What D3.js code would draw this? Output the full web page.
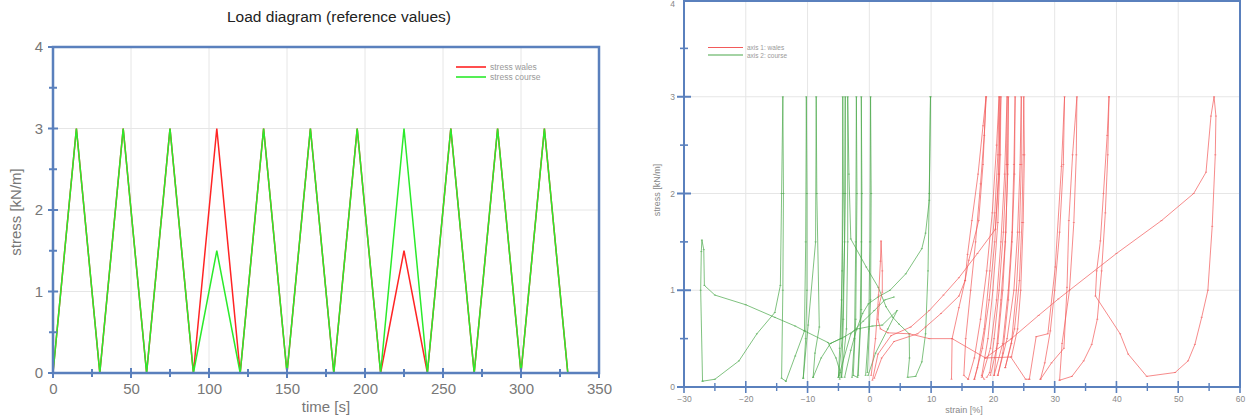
<!DOCTYPE html>
<html><head><meta charset="utf-8">
<script src="https://cdn.jsdelivr.net/npm/d3@7"></script>
<style>
body{margin:0;background:#fff;}
svg{display:block;font-family:"Liberation Sans",Arial,sans-serif;}
</style></head><body>
<svg id="c" width="1247" height="417"></svg>
<script>
// ---------- Left chart data ----------
const timeS = [0,15,30,45,60,75,90,105,120,135,150,165,180,195,210,225,240,255,270,285,300,315,330];
const stressWales  = [0,3,0,3,0,3,0,3,0,3,0,3,0,3,0,1.5,0,3,0,3,0,3,0];
const stressCourse = [0,3,0,3,0,3,0,1.5,0,3,0,3,0,3,0,3,0,3,0,3,0,3,0];
const leftXTicks = [0,50,100,150,200,250,300,350];
const leftXMinor = [25,75,125,175,225,275,325];
const leftYTicks = [0,1,2,3,4];
const leftYMinor = [0.5,1.5,2.5,3.5];

// ---------- Right chart data (strain %, stress kN/m) ----------
const walesA = [[0.3,0.12],[1.0,0.5],[1.5,0.95],[1.8,1.3],[1.9,1.51],[2.1,1.2],[2.1,0.98],[1.6,0.85],[1.4,0.7],[1.8,0.6],[3.0,0.56],[6.5,0.55],[9.7,0.5],[13.4,0.5],[18.8,0.3],[22.9,0.31],[25.3,0.08],[25.9,0.08]];
const walesB = [[0.5,0.07],[1.4,0.34],[3.5,0.53],[6.7,0.62],[9.7,0.79],[12.0,0.95],[14.5,1.13],[17.5,1.38],[20.4,1.63],[21.0,2.2],[21.1,3.0]];
const walesC = [[0.8,0.09],[2.0,0.3],[4.0,0.47],[7.8,0.55],[9.1,0.62],[11.6,0.76],[14.5,0.94],[15.5,1.1],[16.1,1.31],[17.7,1.72],[18.4,2.3],[18.9,3.0]];
const walesL1 = [[13.3,0.08],[13.4,0.5],[14.5,0.82],[15.5,1.1],[15.9,1.37],[16.6,1.72],[17.6,2.2],[18.4,2.7],[18.9,3.0],[18.6,2.6],[18.0,2.1],[17.2,1.5],[16.4,1.0],[15.6,0.5],[15.3,0.12],[16.0,0.08]];
const walesL2 = [[16.0,0.08],[17.0,0.3],[18.0,0.7],[19.0,1.2],[19.9,1.8],[20.6,2.5],[21.0,3.0],[20.8,2.4],[20.3,1.8],[19.5,1.2],[18.6,0.6],[17.5,0.2],[17.0,0.08]];
const walesL3 = [[17.0,0.08],[18.3,0.4],[19.4,0.9],[20.3,1.5],[20.9,2.2],[21.3,3.0],[21.2,2.4],[20.8,1.7],[20.0,1.0],[19.2,0.5],[18.2,0.12],[18.6,0.08]];
const walesL4 = [[18.2,0.1],[19.6,0.4],[20.6,0.9],[21.3,1.5],[21.9,2.2],[22.3,3.0],[22.2,2.3],[21.7,1.6],[21.0,1.0],[20.2,0.5],[19.5,0.15],[19.0,0.1]];
const walesL5 = [[19.6,0.12],[20.8,0.45],[21.6,1.0],[22.1,1.6],[22.4,2.3],[22.5,3.0],[22.4,2.2],[22.0,1.5],[21.3,0.9],[20.6,0.4],[20.2,0.12]];
const walesL6 = [[20.2,0.12],[21.6,0.45],[22.5,1.0],[23.1,1.6],[23.4,2.3],[23.6,3.0],[23.5,2.2],[23.1,1.5],[22.5,0.9],[21.6,0.35],[20.8,0.12]];
const walesL7 = [[20.8,0.12],[22.3,0.5],[23.4,1.0],[24.0,1.6],[24.4,2.3],[24.6,3.0],[24.6,2.3],[24.3,1.6],[23.8,1.0],[23.0,0.45],[22.0,0.2]];
const walesL8 = [[22.0,0.2],[23.5,0.6],[24.3,1.1],[24.7,1.7],[24.9,2.4],[25.0,3.0],[25.1,2.4],[24.9,1.7],[24.5,1.0],[24.0,0.6],[23.0,0.31]];
const walesL9 = [[25.9,0.08],[27.0,0.52],[28.9,0.55],[30.1,1.24],[31.1,2.28],[31.6,3.0],[31.4,2.3],[30.8,1.6],[30.0,1.0],[29.3,0.58],[28.4,0.25],[27.7,0.08]];
const walesL10 = [[27.7,0.08],[29.5,0.25],[31.5,0.4],[32.0,1.03],[32.3,1.72],[32.9,2.4],[33.6,3.0],[33.5,2.4],[33.1,1.7],[32.4,1.0],[31.2,0.45],[30.8,0.07]];
const walesL11 = [[38.8,3.0],[38.6,2.4],[38.2,1.8],[37.6,1.2],[36.9,0.7],[36.0,0.44],[34.7,0.27],[32.8,0.11],[30.8,0.07]];
const walesLong = [[18.8,0.3],[23.0,0.5],[27.4,0.74],[30.6,0.91],[40.0,1.38],[47.3,1.72],[52.5,2.0],[54.5,2.22],[55.3,2.8],[55.8,3.0],[56.1,2.8],[56.0,2.4],[55.5,1.66],[54.8,1.0],[53.8,0.72],[52.7,0.44],[51.6,0.27],[49.5,0.15],[44.9,0.11],[41.9,0.34],[40.6,0.55],[36.6,0.94],[36.8,1.2],[37.4,1.51],[37.9,2.0],[38.5,2.6],[38.8,3.0]];

const courseA = [[-27.0,0.06],[-27.3,1.0],[-27.2,1.4],[-27.1,1.52],[-26.8,1.42],[-26.7,1.05],[-25.0,0.95],[-20.0,0.85],[-15.3,0.72],[-12.0,0.63],[-10.5,0.58],[-6.7,0.46],[-5.4,0.3],[-4.7,0.15],[-4.8,0.08]];
const courseB = [[-27.0,0.06],[-25.0,0.08],[-21.1,0.27],[-18.2,0.55],[-15.3,0.77],[-14.4,1.05],[-14.2,2.0],[-14.0,3.0],[-13.9,2.0],[-14.0,1.0],[-14.2,0.09],[-13.5,0.06]];
const courseC = [[-13.5,0.06],[-12.0,0.32],[-10.5,0.58],[-10.3,1.5],[-10.2,3.0],[-10.1,2.0],[-10.1,1.0],[-10.3,0.5],[-10.7,0.09]];
const courseD = [[-10.7,0.09],[-9.9,0.64],[-8.7,1.5],[-8.6,3.0],[-8.5,2.0],[-8.1,0.62],[-8.8,0.35],[-9.1,0.1]];
const courseE = [[-9.1,0.1],[-7.8,0.3],[-6.3,0.45],[-4.6,0.5],[-4.4,1.2],[-4.3,3.0],[-4.2,2.0],[-4.5,0.9],[-4.8,0.4],[-5.0,0.1]];
const courseF = [[-5.0,0.1],[-4.4,0.5],[-4.0,1.5],[-3.9,3.0],[-3.9,2.0],[-4.2,0.7],[-4.5,0.1]];
const courseG = [[-4.5,0.1],[-3.7,0.6],[-3.5,1.5],[-3.5,3.0],[-3.3,2.2],[-3.0,1.53],[-0.5,1.24],[1.45,1.03],[2.7,0.83],[3.8,0.72],[4.8,0.65],[6.45,0.55],[6.5,0.3],[6.2,0.1],[7.5,0.11],[8.5,0.26],[9.1,0.55],[9.5,1.2],[9.7,2.0],[9.9,3.0]];
const courseH = [[9.9,3.0],[9.7,1.93],[9.1,1.59],[8.5,1.43],[5.9,1.17],[3.35,1.0],[1.4,0.93],[-0.15,0.86],[-1.1,0.76],[-2.1,0.59],[-3.0,0.38],[-4.0,0.1]];
const courseI = [[-2.8,0.1],[-2.4,0.5],[-2.2,1.5],[-2.1,3.0],[-2.0,2.0],[-2.2,0.7],[-2.6,0.12],[-1.9,0.1],[-1.5,0.6],[-1.3,1.5],[-1.3,3.0],[-1.2,2.0],[-1.3,0.8],[-1.8,0.12]];
const courseJ = [[-0.6,0.12],[-0.1,0.6],[0.1,1.5],[0.2,3.0],[0.3,2.0],[0.2,0.9],[-0.3,0.15]];
const courseK = [[-6.3,0.45],[-4.0,0.52],[-2.0,0.6],[0.5,0.63],[2.1,0.64],[4.5,0.79],[3.0,0.6],[1.0,0.35],[-0.2,0.12]];
const courseM = [[-4.9,0.12],[-3.0,0.55],[-1.0,0.68],[0.8,0.79],[2.5,0.9],[4.0,0.93]];

const rightXTicks = [-30,-20,-10,0,10,20,30,40,50,60];
const rightXMinor = [-25,-15,-5,5,15,25,35,45,55];
const rightYTicks = [0,1,2,3,4];
const rightYMinor = [0.5,1.5,2.5,3.5];

const walesCurves = [walesA,walesB,walesC,walesL1,walesL2,walesL3,walesL4,walesL5,walesL6,walesL7,walesL8,walesL9,walesL10,walesL11,walesLong];
const courseCurves = [courseA,courseB,courseC,courseD,courseE,courseF,courseG,courseH,courseI,courseJ,courseK,courseM];

// ---------- drawing ----------
const svg = d3.select("#c");
const frameColor = "#5a80bd";
const gridColor = "#e6e6e6";
const redR = "#f25a5a", greenR = "#4aa84a";

function crossTicks(g, scale, values, orient, pos, len, width){
  values.forEach(v=>{
    const p = scale(v);
    if(orient==="x") g.append("line").attr("x1",p).attr("x2",p).attr("y1",pos-len).attr("y2",pos+len);
    else g.append("line").attr("y1",p).attr("y2",p).attr("x1",pos-len).attr("x2",pos+len);
  });
  g.attr("stroke",frameColor).attr("stroke-width",width);
}

// ===== Left chart =====
const xL = d3.scaleLinear().domain([0,350]).range([53,599]);
const yL = d3.scaleLinear().domain([0,4]).range([373,47]);
const L = svg.append("g");

L.append("text").attr("x",339).attr("y",22).attr("text-anchor","middle")
  .attr("font-size",15.5).attr("fill","#222").text("Load diagram (reference values)");

L.append("g").selectAll("line").data(leftXTicks.slice(1,-1)).join("line")
  .attr("x1",d=>xL(d)).attr("x2",d=>xL(d)).attr("y1",yL(0)).attr("y2",yL(4))
  .attr("stroke",gridColor).attr("stroke-width",1);
L.append("g").selectAll("line").data(leftYTicks.slice(1,-1)).join("line")
  .attr("y1",d=>yL(d)).attr("y2",d=>yL(d)).attr("x1",xL(0)).attr("x2",xL(350))
  .attr("stroke",gridColor).attr("stroke-width",1);

const lineL = d3.line().x(d=>xL(d[0])).y(d=>yL(d[1]));
L.append("path").datum(timeS.map((t,i)=>[t,stressWales[i]])).attr("d",lineL)
  .attr("fill","none").attr("stroke","#ff2424").attr("stroke-width",1.5);
L.append("path").datum(timeS.map((t,i)=>[t,stressCourse[i]])).attr("d",lineL)
  .attr("fill","none").attr("stroke","#2bea2b").attr("stroke-width",1.5);

L.append("rect").attr("x",xL(0)).attr("y",yL(4)).attr("width",xL(350)-xL(0)).attr("height",yL(0)-yL(4))
  .attr("fill","none").attr("stroke",frameColor).attr("stroke-width",2.5);
crossTicks(L.append("g"), xL, leftXTicks, "x", yL(0), 5, 2);
crossTicks(L.append("g"), xL, leftXMinor, "x", yL(0), 4, 2);
crossTicks(L.append("g"), yL, leftYTicks, "y", xL(0), 5, 2);
crossTicks(L.append("g"), yL, leftYMinor, "y", xL(0), 4, 2);

const axLX = L.append("g").attr("transform",`translate(0,${yL(0)})`)
  .call(d3.axisBottom(xL).tickValues(leftXTicks).tickSize(0).tickPadding(10).tickFormat(d3.format("d")));
axLX.select(".domain").remove();
axLX.selectAll("text").attr("font-size",15).attr("fill","#777").attr("font-family","Liberation Sans, Arial, sans-serif");
const axLY = L.append("g").attr("transform",`translate(${xL(0)},0)`)
  .call(d3.axisLeft(yL).tickValues(leftYTicks).tickSize(0).tickPadding(10).tickFormat(d3.format("d")));
axLY.select(".domain").remove();
axLY.selectAll("text").attr("font-size",15).attr("fill","#777").attr("font-family","Liberation Sans, Arial, sans-serif");

L.append("text").attr("x",326).attr("y",412).attr("text-anchor","middle")
  .attr("font-size",15).attr("fill","#777").text("time [s]");
L.append("text").attr("transform","translate(21,212) rotate(-90)").attr("text-anchor","middle")
  .attr("font-size",15).attr("fill","#777").text("stress [kN/m]");

const legL = [["stress wales","#ff2424"],["stress course","#2bea2b"]];
legL.forEach((d,i)=>{
  const y = 67 + i*10;
  L.append("line").attr("x1",456).attr("x2",486).attr("y1",y).attr("y2",y).attr("stroke",d[1]).attr("stroke-width",1.6);
  L.append("text").attr("x",490).attr("y",y+3).attr("font-size",8.5).attr("fill","#999").text(d[0]);
});

// ===== Right chart =====
const xR = d3.scaleLinear().domain([-30,60]).range([684,1240]);
const yR = d3.scaleLinear().domain([0,4]).range([387,0]);
const R = svg.append("g");

R.append("g").selectAll("line").data(rightXTicks.slice(1,-1)).join("line")
  .attr("x1",d=>xR(d)).attr("x2",d=>xR(d)).attr("y1",yR(0)).attr("y2",yR(4))
  .attr("stroke",gridColor).attr("stroke-width",1);
R.append("g").selectAll("line").data(rightYTicks.slice(1,-1)).join("line")
  .attr("y1",d=>yR(d)).attr("y2",d=>yR(d)).attr("x1",xR(-30)).attr("x2",xR(60))
  .attr("stroke",gridColor).attr("stroke-width",1);

const lineR = d3.line().x(d=>xR(d[0])).y(d=>yR(d[1]));
function drawCurves(curves, color){
  const g = R.append("g");
  curves.forEach(c=>{
    g.append("path").datum(c).attr("d",lineR).attr("fill","none")
      .attr("stroke",color).attr("stroke-opacity",0.7).attr("stroke-width",1);
    g.append("g").selectAll("line").data(c).join("line")
      .attr("x1",d=>xR(d[0])-1).attr("x2",d=>xR(d[0])+1).attr("y1",d=>yR(d[1])).attr("y2",d=>yR(d[1]))
      .attr("stroke",color).attr("stroke-opacity",0.6).attr("stroke-width",1);
  });
}
drawCurves(courseCurves, greenR);
drawCurves(walesCurves, redR);

R.append("rect").attr("x",xR(-30)).attr("y",yR(4)+1).attr("width",xR(60)-xR(-30)).attr("height",yR(0)-yR(4)-1)
  .attr("fill","none").attr("stroke",frameColor).attr("stroke-width",2);
crossTicks(R.append("g"), xR, rightXTicks, "x", yR(0), 6, 1.6);
crossTicks(R.append("g"), xR, rightXMinor, "x", yR(0), 4, 1.4);
crossTicks(R.append("g"), yR, rightYTicks.slice(0,4), "y", xR(-30), 7, 2);
crossTicks(R.append("g"), yR, rightYMinor, "y", xR(-30), 4, 1.6);

const axRX = R.append("g").attr("transform",`translate(0,${yR(0)})`)
  .call(d3.axisBottom(xR).tickValues(rightXTicks).tickSize(0).tickPadding(9).tickFormat(d3.format("d")));
axRX.select(".domain").remove();
axRX.selectAll("text").attr("font-size",8.5).attr("fill","#888").attr("font-family","Liberation Sans, Arial, sans-serif");
const axRY = R.append("g").attr("transform",`translate(${xR(-30)},0)`)
  .call(d3.axisLeft(yR).tickValues(rightYTicks).tickSize(0).tickPadding(9).tickFormat(d3.format("d")));
axRY.select(".domain").remove();
axRY.selectAll("text").attr("font-size",8.5).attr("fill","#888").attr("font-family","Liberation Sans, Arial, sans-serif")
  .attr("dy", d => d === 4 ? "0.75em" : "0.32em");

R.append("text").attr("x",964).attr("y",413).attr("text-anchor","middle")
  .attr("font-size",9).attr("fill","#888").text("strain [%]");
R.append("text").attr("transform","translate(660,190) rotate(-90)").attr("text-anchor","middle")
  .attr("font-size",9).attr("fill","#888").text("stress [kN/m]");

const legR = [["axis 1: wales",redR],["axis 2: course",greenR]];
legR.forEach((d,i)=>{
  const y = 47.5 + i*7.5;
  R.append("line").attr("x1",708).attr("x2",743).attr("y1",y).attr("y2",y).attr("stroke",d[1]).attr("stroke-width",1.2);
  R.append("text").attr("x",747).attr("y",y+2.5).attr("font-size",6.5).attr("fill","#999").text(d[0]);
});
</script>
</body></html>
